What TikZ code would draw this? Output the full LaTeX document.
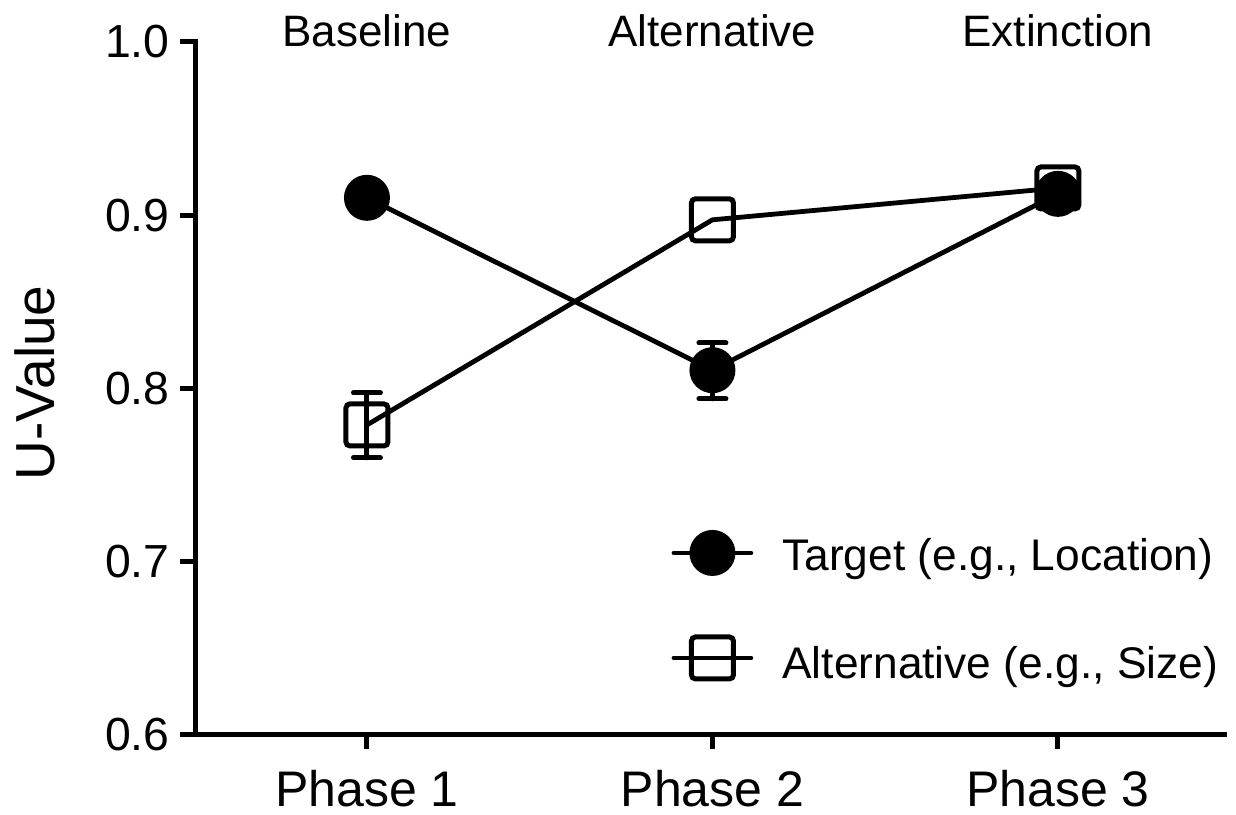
\documentclass[tikz,border=0pt]{standalone}
\usepackage{fontspec}
\setmainfont{Liberation Sans}
\begin{document}
\begin{tikzpicture}[x=172.75pt,y=866.25pt,
  axis/.style={line width=2.5pt,line cap=rect},
  series/.style={line width=2.4pt,line cap=round,line join=round},
  errbar/.style={line width=2.5pt,line cap=round},
  tmark/.style={circle,fill=black,minimum size=23pt,inner sep=0pt},
  amark/.style={rectangle,draw=black,line width=2.5pt,rounded corners=2pt,minimum size=21pt,inner sep=0pt},
  ticklab/.style={font=\fontsize{23.2}{27}\selectfont,anchor=east,inner sep=0pt},
  phaselab/.style={font=\fontsize{25}{29}\selectfont,anchor=base,inner sep=0pt},
  toplab/.style={font=\fontsize{22}{26}\selectfont,anchor=base,inner sep=0pt},
  leglab/.style={font=\fontsize{22.15}{26}\selectfont,anchor=base west,inner sep=0pt}]
\useasboundingbox (-0.0622,0.5538) rectangle (3.5155,1.0242);

% axes
\draw[axis] (0.505,1.0) -- (0.505,0.6) -- (3.483,0.6);
\foreach \v in {0.6,0.7,0.8,0.9,1.0}{
  \draw[axis] (0.505,\v) -- ++(-6.5pt,0);
  \node[ticklab] (ylab\v) at (0.4298,\v) {\v};
}
\foreach \p in {1,2,3}{
  \draw[axis] (\p,0.6) -- ++(0,-6pt);
  \node[phaselab] (phase\p) at (\p,0.5585) {Phase \p};
}
\node[rotate=90,anchor=base,inner sep=0pt,font=\fontsize{27.5}{32}\selectfont] (ylabel) at (0.097,0.8032) {U-Value};

% condition names
\node[toplab] (base) at (1,0.9971) {Baseline};
\node[toplab] (alt) at (2,0.9971) {Alternative};
\node[toplab] (ext) at (3,0.9971) {Extinction};

% data points
\coordinate (a1) at (1,0.7789);
\coordinate (a2) at (2,0.8973);
\coordinate (a3) at (3,0.9157);
\coordinate (t1) at (1,0.9100);
\coordinate (t2) at (2,0.8105);
\coordinate (t3) at (3,0.9123);

% alternative
\draw[errbar] (1,0.7599) -- (1,0.7974);
\draw[errbar] (1,0.7974) +(-6.75pt,0) -- +(6.75pt,0);
\draw[errbar] (1,0.7599) +(-6.75pt,0) -- +(6.75pt,0);
\draw[series] (a1) -- (a2) -- (a3);
\node[amark] (A1) at (a1) {};
\node[amark] (A2) at (a2) {};
\node[amark] (A3) at (a3) {};

% target
\draw[errbar] (2,0.7940) -- (2,0.8262);
\draw[errbar] (2,0.8262) +(-6.75pt,0) -- +(6.75pt,0);
\draw[errbar] (2,0.7940) +(-6.75pt,0) -- +(6.75pt,0);
\draw[series] (t1) -- (t2) -- (t3);
\node[tmark] (T1) at (t1) {};
\node[tmark] (T2) at (t2) {};
\node[tmark] (T3) at (t3) {};

% legend
\coordinate (lt0) at (1.8886,0.7050);
\coordinate (lt1) at (2.1114,0.7050);
\coordinate (la0) at (1.8886,0.6444);
\coordinate (la1) at (2.1114,0.6444);
\draw[series] (lt0) -- (lt1);
\node[tmark] (LT) at (2,0.7050) {};
\node[amark] (LA) at (2,0.6444) {};
\draw[series] (la0) -- (la1);
\node[leglab] (legt) at (2.2012,0.6947) {Target (e.g., Location)};
\node[leglab] (lega) at (2.2012,0.6323) {Alternative (e.g., Size)};
\end{tikzpicture}
\end{document}
